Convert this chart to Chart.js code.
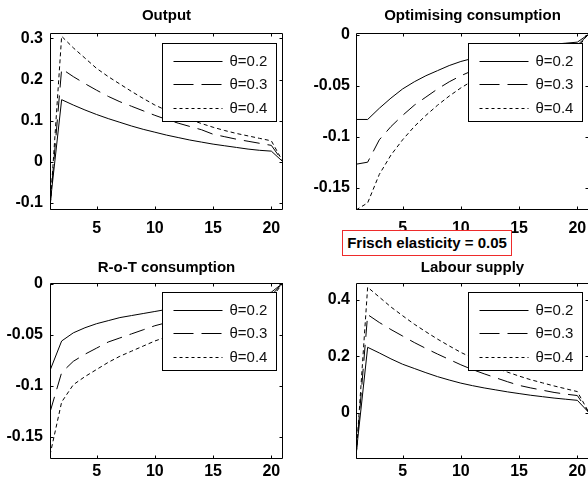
<!DOCTYPE html>
<html><head><meta charset="utf-8">
<script src="https://cdn.jsdelivr.net/npm/chart.js@4/dist/chart.umd.min.js"></script>
<style>
html,body{margin:0;padding:0;background:#fff;overflow:hidden;width:588px;height:481px;}
canvas{position:absolute;}
#frisch{position:absolute;left:342px;top:230px;width:168px;height:24px;border:1px solid #ee2b2b;background:#fff;font:bold 15px "Liberation Sans",Arial,sans-serif;text-align:center;line-height:24px;color:#000;white-space:nowrap;z-index:5;}
</style></head><body>
<canvas id="c1" width="294" height="240" style="left:0;top:0;width:294px;height:240px"></canvas>
<canvas id="c2" width="306" height="240" style="left:294px;top:0;width:306px;height:240px"></canvas>
<canvas id="c3" width="294" height="241" style="left:0;top:240px;width:294px;height:241px"></canvas>
<canvas id="c4" width="306" height="241" style="left:294px;top:240px;width:306px;height:241px"></canvas>
<div id="frisch">Frisch elasticity = 0.05</div>
<script>
// ---------- data ----------
const periods = [1,2,3,4,5,6,7,8,9,10,11,12,13,14,15,16,17,18,19,20,21];
const seriesLabels = ['θ=0.2','θ=0.3','θ=0.4'];
const xTicks = [5,10,15,20];

const outputTheta02 = [-0.105,0.151,0.138,0.126,0.115,0.105,0.096,0.087,0.079,0.072,0.065,0.059,0.053,0.048,0.043,0.039,0.035,0.031,0.028,0.026,0];
const outputTheta03 = [-0.110,0.226,0.207,0.190,0.174,0.159,0.146,0.135,0.124,0.113,0.103,0.094,0.086,0.078,0.067,0.061,0.055,0.050,0.045,0.040,0];
const outputTheta04 = [-0.117,0.305,0.277,0.252,0.227,0.207,0.189,0.171,0.154,0.138,0.125,0.113,0.103,0.093,0.084,0.076,0.069,0.063,0.057,0.051,0];
const outputTicks = [-0.1,0,0.1,0.2,0.3];

const optTheta02 = [-0.083,-0.083,-0.072,-0.062,-0.053,-0.046,-0.040,-0.035,-0.030,-0.026,-0.023,-0.020,-0.017,-0.015,-0.013,-0.011,-0.010,-0.009,-0.008,-0.007,0.001];
const optTheta03 = [-0.127,-0.125,-0.103,-0.090,-0.079,-0.069,-0.061,-0.053,-0.046,-0.040,-0.035,-0.030,-0.026,-0.023,-0.020,-0.017,-0.015,-0.013,-0.011,-0.010,0.001];
const optTheta04 = [-0.172,-0.165,-0.137,-0.118,-0.103,-0.090,-0.079,-0.069,-0.060,-0.052,-0.045,-0.039,-0.034,-0.030,-0.026,-0.022,-0.019,-0.017,-0.015,-0.013,0.002];
const optTicks = [-0.15,-0.1,-0.05,0];

const rotTheta02 = [-0.085,-0.056,-0.048,-0.043,-0.039,-0.036,-0.033,-0.031,-0.029,-0.027,-0.025,-0.023,-0.021,-0.019,-0.018,-0.016,-0.014,-0.013,-0.011,-0.008,0.001];
const rotTheta03 = [-0.126,-0.087,-0.076,-0.069,-0.063,-0.057,-0.053,-0.049,-0.045,-0.041,-0.038,-0.035,-0.032,-0.029,-0.026,-0.023,-0.021,-0.018,-0.015,-0.011,0.001];
const rotTheta04 = [-0.168,-0.116,-0.099,-0.091,-0.084,-0.077,-0.071,-0.066,-0.061,-0.056,-0.052,-0.047,-0.043,-0.039,-0.035,-0.031,-0.027,-0.023,-0.019,-0.014,0.001];
const rotTicks = [-0.15,-0.1,-0.05,0];

const labourTheta02 = [-0.150,0.232,0.212,0.191,0.172,0.157,0.142,0.128,0.116,0.105,0.096,0.088,0.081,0.074,0.068,0.062,0.057,0.052,0.048,0.044,0];
const labourTheta03 = [-0.155,0.348,0.320,0.295,0.272,0.249,0.228,0.208,0.189,0.170,0.153,0.138,0.124,0.110,0.097,0.088,0.080,0.072,0.066,0.061,0];
const labourTheta04 = [-0.164,0.445,0.410,0.375,0.344,0.314,0.287,0.261,0.237,0.214,0.194,0.176,0.159,0.144,0.130,0.117,0.106,0.095,0.085,0.075,0];
const labourTicks = [0,0.2,0.4];

// ---------- styling / layout ----------
const FONT = '"Liberation Sans", Arial, sans-serif';
const plotDash = [[], [16,8], [4,3]];
const legendDash = [[], [20,8], [3,3]];

const framePlugin = {
  id: 'frame',
  afterDatasetsDraw(chart, args, opts) {
    const {ctx, chartArea: a, scales: {x, y}} = chart;
    const legendTop = (opts && opts.legendTop) || 10;
    ctx.save();
    ctx.strokeStyle = '#000';
    ctx.lineWidth = 1;
    const L = Math.round(a.left) + 0.5, R = Math.round(a.right) - 0.5;
    const T = Math.round(a.top) + 0.5, B = Math.round(a.bottom) - 0.5;
    // legend box
    const bw = 114, bh = 78;
    const bx = Math.round(a.right - 7 - bw) + 0.5, by = Math.round(a.top + legendTop) + 0.5;
    ctx.fillStyle = '#fff';
    ctx.fillRect(bx, by, bw, bh);
    ctx.strokeRect(bx, by, bw, bh);
    chart.data.datasets.forEach((ds, i) => {
      const yy = Math.round(by + 17 + i * 23.5) + 0.5;
      ctx.setLineDash(legendDash[i]);
      ctx.beginPath();
      ctx.moveTo(bx + 11, yy);
      ctx.lineTo(bx + 60, yy);
      ctx.stroke();
      ctx.setLineDash([]);
      ctx.fillStyle = '#111';
      ctx.font = '15px ' + FONT;
      ctx.textBaseline = 'middle';
      ctx.textAlign = 'left';
      ctx.fillText(ds.label, bx + 67, yy);
    });
    // axes box
    ctx.setLineDash([]);
    ctx.beginPath();
    ctx.rect(L, T, R - L, B - T);
    ctx.stroke();
    // inward ticks
    ctx.beginPath();
    x.ticks.forEach(t => {
      const px = Math.round(x.getPixelForValue(t.value)) + 0.5;
      ctx.moveTo(px, B); ctx.lineTo(px, B - 3);
      ctx.moveTo(px, T); ctx.lineTo(px, T + 3);
    });
    y.ticks.forEach(t => {
      const py = Math.round(y.getPixelForValue(t.value)) + 0.5;
      ctx.moveTo(L, py); ctx.lineTo(L + 3, py);
      ctx.moveTo(R, py); ctx.lineTo(R - 3, py);
    });
    ctx.stroke();
    ctx.restore();
  }
};

function makePanel(p) {
  const datasets = p.series.map((vals, i) => ({
    label: seriesLabels[i],
    data: periods.map((px, k) => ({x: px, y: vals[k]})),
    borderColor: '#000',
    borderWidth: 1,
    borderDash: plotDash[i],
    pointRadius: 0,
    fill: false,
    tension: 0
  }));
  return new Chart(document.getElementById(p.id), {
    type: 'line',
    data: {datasets},
    plugins: [framePlugin],
    options: {
      responsive: false,
      animation: false,
      devicePixelRatio: 1,
      layout: {padding: {left: 0, right: p.padRight, top: 0, bottom: 0}},
      plugins: {
        legend: {display: false},
        tooltip: {enabled: false},
        frame: {legendTop: p.legendTop},
        title: {
          display: true, text: p.title, fullSize: false,
          color: '#000',
          font: {family: FONT, size: 15, weight: 'bold', lineHeight: 1},
          padding: {top: p.titleTop, bottom: p.titleBottom}
        }
      },
      scales: {
        x: {
          type: 'linear', min: 1, max: 21,
          grid: {display: false, drawTicks: false},
          border: {display: false},
          afterBuildTicks: s => { s.ticks = xTicks.map(v => ({value: v})); },
          afterFit: s => { s.height = p.xHeight; },
          ticks: {color: '#000', padding: p.xPad, maxRotation: 0,
                  font: {family: FONT, size: 16, weight: 'bold'},
                  callback: v => String(v)}
        },
        y: {
          type: 'linear', min: p.yMin, max: p.yMax,
          grid: {display: false, drawTicks: false},
          border: {display: false},
          afterBuildTicks: s => { s.ticks = p.yTicks.map(v => ({value: v})); },
          afterFit: s => { s.width = p.yWidth; },
          ticks: {color: '#000', padding: p.yPad,
                  font: {family: FONT, size: 16, weight: 'bold'},
                  callback: v => String(v)}
        }
      }
    }
  });
}

makePanel({id: 'c1', title: 'Output', series: [outputTheta02, outputTheta03, outputTheta04],
  yTicks: outputTicks, yMin: -0.117, yMax: 0.313, yWidth: 50, padRight: 11,
  xHeight: 30, titleTop: 8, titleBottom: 10, xPad: 9, yPad: 7, legendTop: 10});
makePanel({id: 'c2', title: 'Optimising consumption', series: [optTheta02, optTheta03, optTheta04],
  yTicks: optTicks, yMin: -0.172, yMax: 0.002, yWidth: 62, padRight: 11,
  xHeight: 30, titleTop: 8, titleBottom: 10, xPad: 9, yPad: 6, legendTop: 10});
makePanel({id: 'c3', title: 'R-o-T consumption', series: [rotTheta02, rotTheta03, rotTheta04],
  yTicks: rotTicks, yMin: -0.172, yMax: 0.001, yWidth: 50, padRight: 11,
  xHeight: 22, titleTop: 20, titleBottom: 8, xPad: 3, yPad: 7, legendTop: 9});
makePanel({id: 'c4', title: 'Labour supply', series: [labourTheta02, labourTheta03, labourTheta04],
  yTicks: labourTicks, yMin: -0.164, yMax: 0.46, yWidth: 62, padRight: 11,
  xHeight: 22, titleTop: 20, titleBottom: 8, xPad: 3, yPad: 6, legendTop: 9});
</script>
</body></html>
